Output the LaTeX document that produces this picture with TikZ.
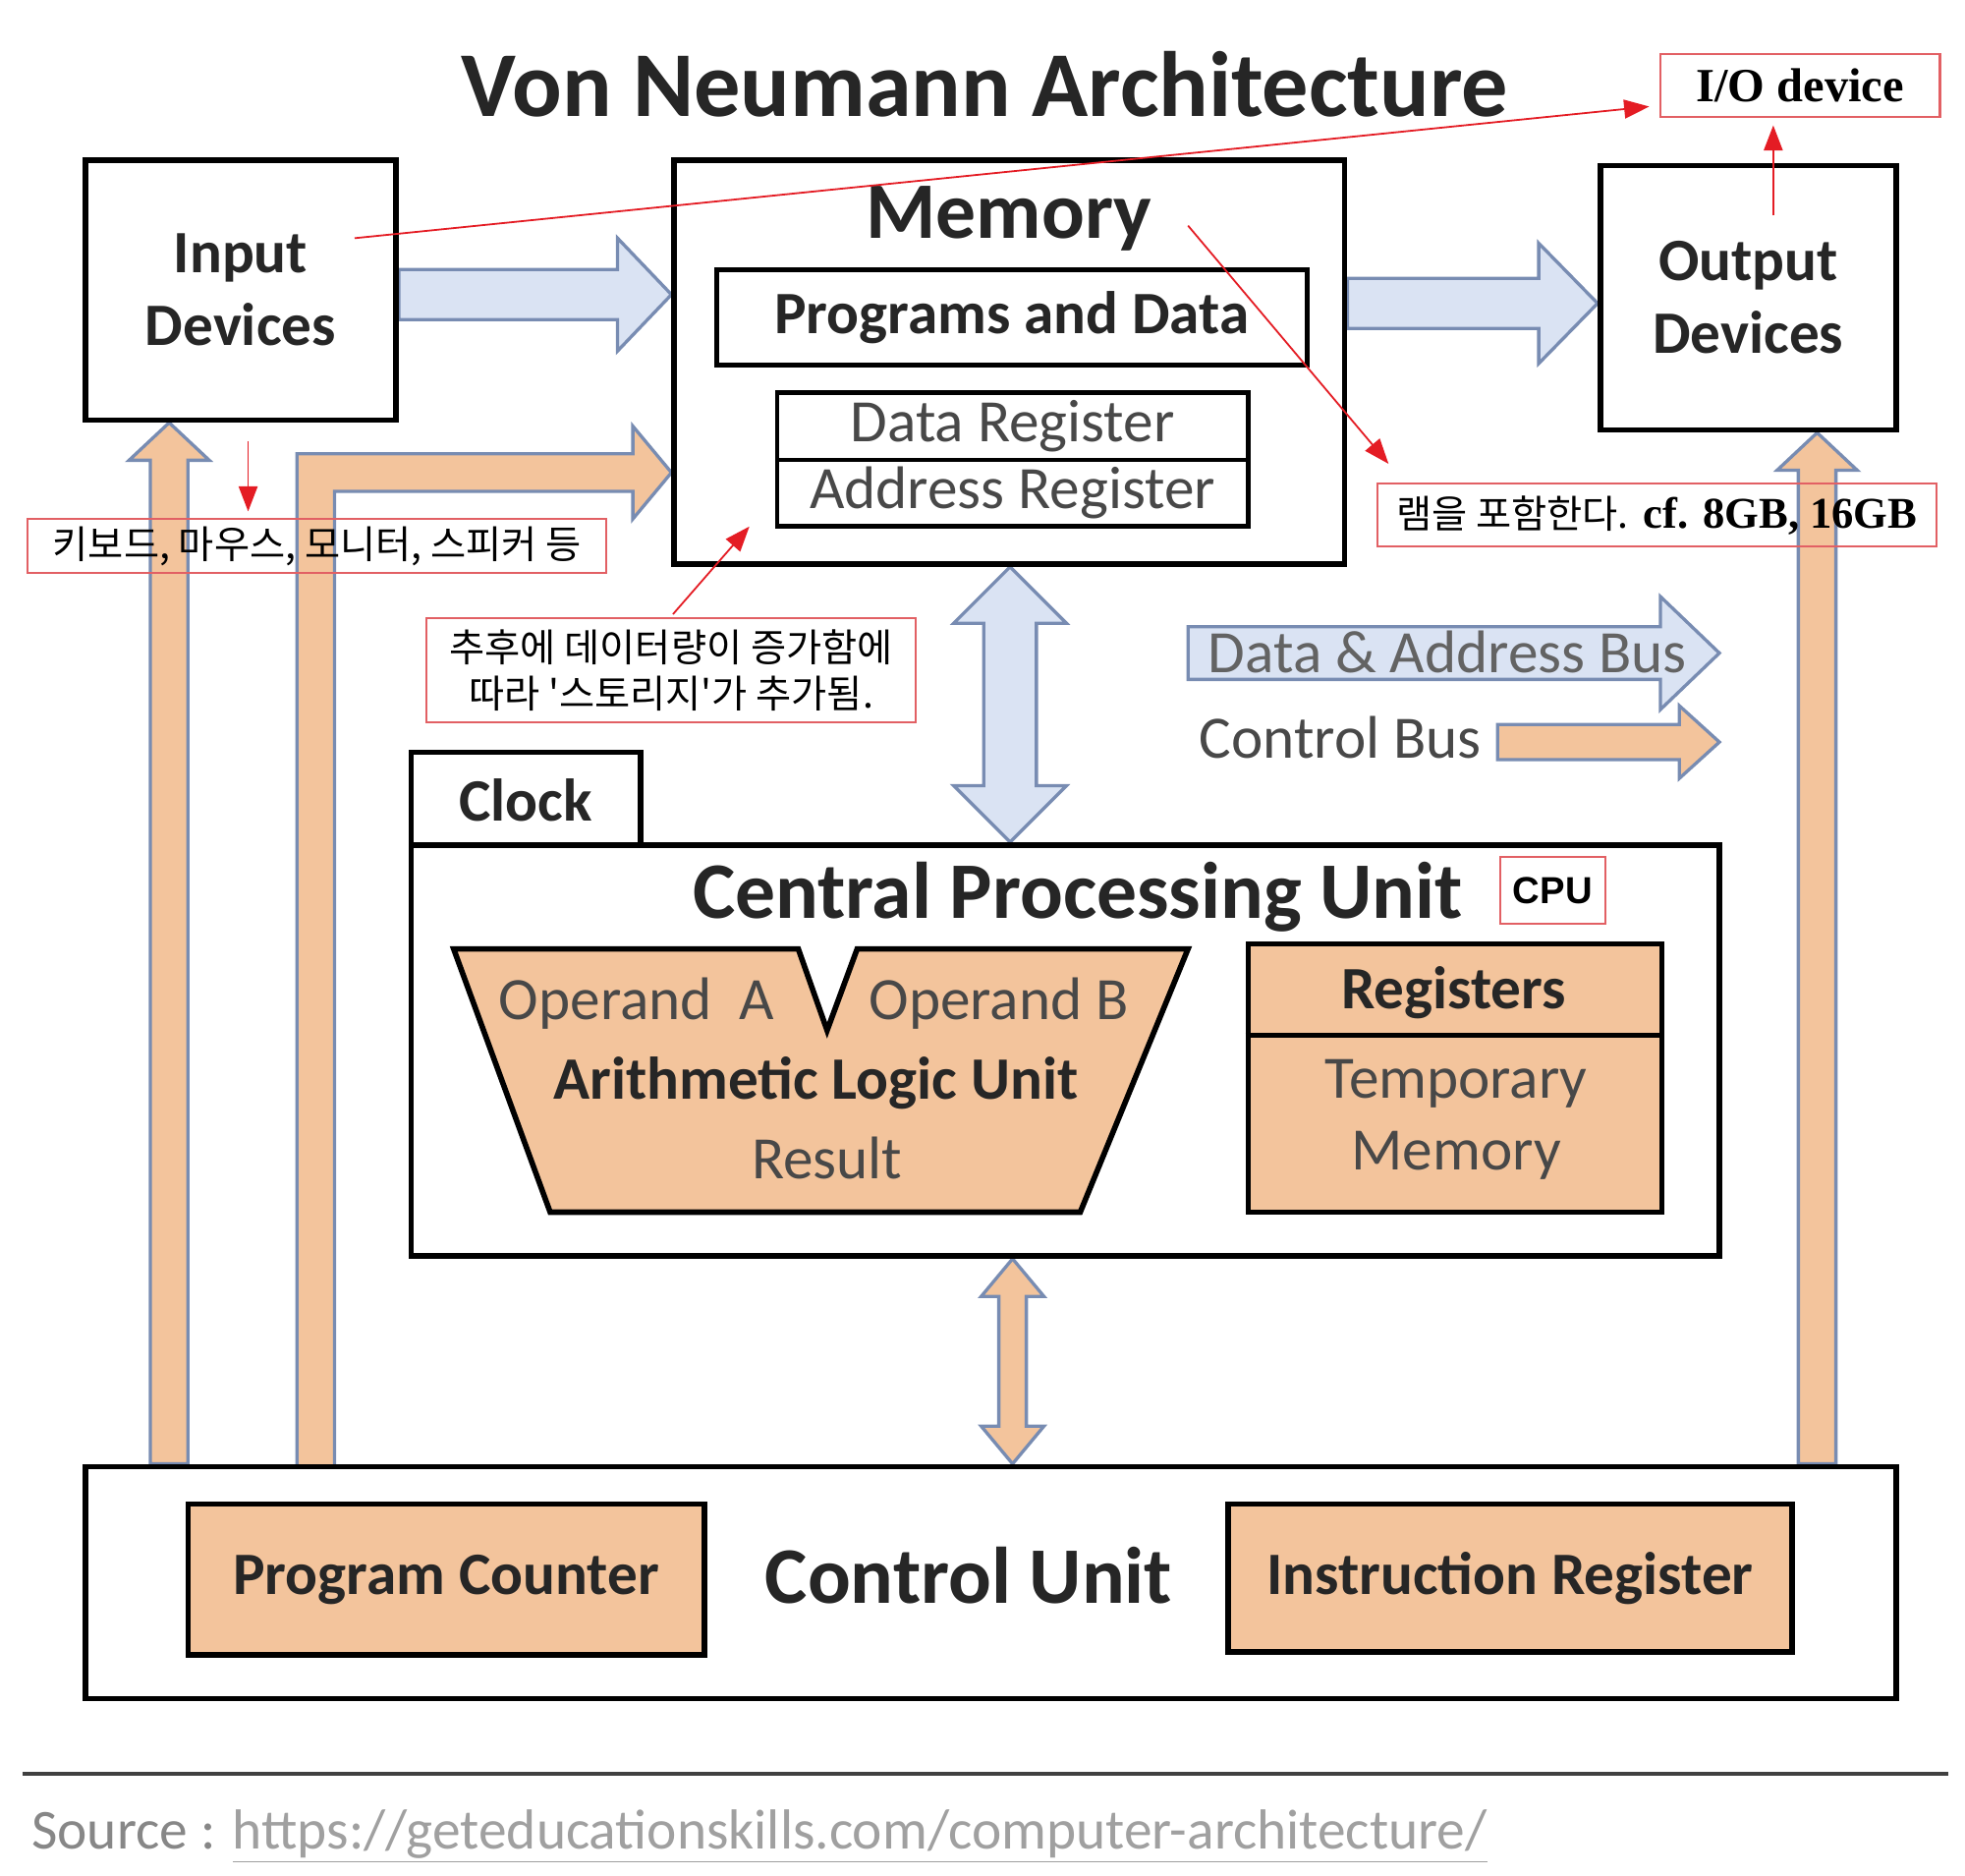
\documentclass[tikz,border=0pt]{standalone}
\usepackage{fontspec}
\setmainfont{Carlito}
\newfontfamily\krfont[Ligatures=TeXOff]{Noto Sans CJK KR}
\newfontfamily\serfont{Liberation Serif}
\newfontfamily\lsfont{Liberation Sans}
\usetikzlibrary{calc,arrows.meta}
\definecolor{orF}{RGB}{243,196,156}
\definecolor{blueF}{RGB}{218,227,243}
\definecolor{blueD}{RGB}{120,140,178}
\definecolor{redA}{RGB}{228,28,36}
\definecolor{redB}{RGB}{226,96,100}
\definecolor{txtD}{RGB}{38,38,38}
\definecolor{txtG}{RGB}{72,72,72}
\definecolor{srcG}{RGB}{135,135,135}
\definecolor{urlG}{RGB}{160,160,160}
\pgfdeclarelayer{bgzero}
\pgfdeclarelayer{bgarr}
\pgfsetlayers{bgzero,bgarr,main}
\tikzset{
  box/.style={draw=black, line width=2.2pt, fill=white, inner sep=0pt},
  obox/.style={box, fill=orF},
  rbox/.style={draw=redB, line width=0.8pt, inner sep=0pt},
  barr/.style={fill=blueF, draw=blueD, line width=1.3pt, line join=miter},
  oarr/.style={fill=orF, draw=blueD, line width=1.3pt, line join=miter},
  redarr/.style={draw=redA, line width=0.7pt, -{Triangle[length=10pt,width=7.5pt]}},
  lblB/.style={font=\bfseries\fontsize{24}{29}\selectfont, text=txtD, align=center},
  lblR/.style={font=\fontsize{24}{29}\selectfont, text=txtG, align=center},
  big/.style={font=\bfseries\fontsize{32}{38}\selectfont, text=txtD},
  krtxt/.style={font=\krfont\fontsize{15.4}{18.5}\selectfont, text=black, align=center},
}
% block arrow: style, from, to, body half width, head half width, head length
\newcommand\blockarrow[6]{%
  \path ($#3!#6!#2$) coordinate (bah);
  \draw[#1] ($#2!#4!90:#3$) -- ($(bah)!#4!90:#3$) -- ($(bah)!#5!90:#3$) -- #3
    -- ($(bah)!#5!-90:#3$) -- ($(bah)!#4!-90:#3$) -- ($#2!#4!-90:#3$) -- cycle;}
% double block arrow
\newcommand\dblarrow[6]{%
  \path ($#3!#6!#2$) coordinate (dahb) ($#2!#6!#3$) coordinate (daha);
  \draw[#1] #2 -- ($(daha)!#5!90:#3$) -- ($(daha)!#4!90:#3$) -- ($(dahb)!#4!90:#3$)
    -- ($(dahb)!#5!90:#3$) -- #3 -- ($(dahb)!#5!-90:#3$) -- ($(dahb)!#4!-90:#3$)
    -- ($(daha)!#4!-90:#3$) -- ($(daha)!#5!-90:#3$) -- cycle;}
\begin{document}
\begin{tikzpicture}[x=0.5pt,y=-0.5pt]
\begin{pgfonlayer}{bgzero}
  \fill[white] (0,0) rectangle (1568,1496);
\end{pgfonlayer}
\useasboundingbox (0,0) rectangle (1568,1496);

% title
\node[font=\bfseries\fontsize{37}{43}\selectfont, text=txtD, anchor=base] (title) at (786,93) {Von Neumann Architecture};

% main boxes
\node[box, lblB, minimum width=124pt, minimum height=103.5pt] (inp) at (192,231.5) {Input\\Devices};
\node[box, minimum width=267.5pt, minimum height=161pt] (mem) at (805.5,289) {};
\node[big, anchor=base] (memt) at (805,190) {Memory};
\node[box, lblB, line width=2pt, minimum width=235.5pt, minimum height=38pt] (pad) at (807.5,253) {Programs and Data};
\node[box, lblR, line width=1.8pt, minimum width=188pt, minimum height=27pt] (dreg) at (808,340) {Data Register};
\node[box, lblR, line width=1.8pt, minimum width=188pt, minimum height=26.5pt] (areg) at (808,393.5) {Address Register};
\node[box, lblB, minimum width=118pt, minimum height=105.5pt] (out) at (1395,237.5) {Output\\Devices};

% CPU
\node[box, lblB, minimum width=91.5pt, minimum height=38pt] (clk) at (419.5,638) {Clock};
\node[box, minimum width=522pt, minimum height=164pt] (cpu) at (850,838) {};
\node[big, anchor=base] (cput) at (860,733) {Central Processing Unit};
\draw[line width=2.2pt, fill=orF, line join=miter] (362,757) -- (637,757) -- (660,822) -- (684,757) -- (948,757) -- (862,967) -- (439,967) -- cycle;
\node[lblR, anchor=base] (opa) at (508,813) {Operand\ \ A};
\node[lblR, anchor=base] (opb) at (797,813) {Operand B};
\node[lblB, anchor=base] (alut) at (651,877) {Arithmetic Logic Unit};
\node[lblR, anchor=base] (res) at (660,940) {Result};
\node[obox, minimum width=165pt, minimum height=107pt] (regs) at (1161,860) {};
\coordinate (regdiv) at (0,826);
\draw[line width=2.2pt] (regs.west |- regdiv) -- (regs.east |- regdiv);
\node[lblB, anchor=base] (regt) at (1160,805) {Registers};
\node[lblR, anchor=base] (tmpm) at (1162,876) {Temporary};
\node[lblR, anchor=base] (tmpm2) at (1162,933) {Memory};

% control unit
\node[box, minimum width=722.5pt, minimum height=92.5pt] (cu) at (790.5,1262.5) {};
\node[obox, lblB, minimum width=206pt, minimum height=60pt] (pc) at (356,1260) {Program Counter};
\node[big, anchor=center] (cut) at (773,1257) {Control Unit};
\node[obox, lblB, minimum width=225pt, minimum height=59pt] (ir) at (1205,1259) {Instruction Register};

% legend
\coordinate (lg1s) at (948,521);
\coordinate (lg1e) at (1372,521);
\coordinate (lg2s) at (1195,592);
\coordinate (lg2e) at (1372,592);
\node[lblR, anchor=base, text=txtG!85!white] (dab) at (1155,537) {Data \& Address Bus};
\node[lblR, anchor=base west] (cb) at (950,605) {Control Bus};

% block arrows (behind boxes)
\coordinate (ya) at (0,235);
\coordinate (yb) at (0,242);
\coordinate (a1s) at (inp.east |- ya);
\coordinate (a1e) at (mem.west |- ya);
\coordinate (a2s) at (mem.east |- yb);
\coordinate (a2e) at (out.west |- yb);
\coordinate (xc) at (806,0);
\coordinate (a3s) at (mem.south -| xc);
\coordinate (a3e) at (cpu.north -| xc);
\coordinate (xd) at (808,0);
\coordinate (a4s) at (cpu.south -| xd);
\coordinate (a4e) at (cu.north -| xd);
\coordinate (xl) at (135,0);
\coordinate (a5s) at (cu.north -| xl);
\coordinate (a5e) at (inp.south -| xl);
\coordinate (xr) at (1450,0);
\coordinate (a6s) at (cu.north -| xr);
\coordinate (a6e) at (out.south -| xr);
\coordinate (yt) at (0,377);
\coordinate (a7e) at (mem.west |- yt);
\begin{pgfonlayer}{bgarr}
  \blockarrow{barr}{(a1s)}{(a1e)}{10pt}{22.5pt}{21.5pt}
  \blockarrow{barr}{(a2s)}{(a2e)}{10pt}{24pt}{23.5pt}
  \dblarrow{barr}{(a3s)}{(a3e)}{10.5pt}{22.5pt}{22.5pt}
  \dblarrow{oarr}{(a4s)}{(a4e)}{5.5pt}{12.5pt}{15pt}
  \blockarrow{oarr}{(a5s)}{(a5e)}{7.5pt}{16pt}{15pt}
  \blockarrow{oarr}{(a6s)}{(a6e)}{7.5pt}{16pt}{15pt}
  \draw[oarr] (237,1172) -- (237,362) -- (505,362) -- (505,340) -- (a7e)
     -- (505,414) -- (505,392) -- (267,392) -- (267,1172) -- cycle;
  \blockarrow{barr}{(lg1s)}{(lg1e)}{10.5pt}{22.5pt}{23.5pt}
  \blockarrow{oarr}{(lg2s)}{(lg2e)}{7pt}{14.5pt}{16pt}
\end{pgfonlayer}

% source
\draw[line width=1.6pt, draw=black!75] (18,1415) -- (1555,1415);
\node[anchor=base west, font=\fontsize{22.5}{26}\selectfont, text=srcG, inner sep=0pt] (src) at (25,1475)
  {Source : {\color{urlG}\underline{https://geteducationskills.com/computer-architecture/}}};

% red annotations
\node[rbox, minimum width=111.5pt, minimum height=25pt, font=\serfont\bfseries\fontsize{19}{22}\selectfont] (io) at (1436.5,68) {I/O device};
\node[rbox, krtxt, minimum width=231pt, minimum height=21.5pt] (kbd) at (253,435.5) {키보드, 마우스, 모니터, 스피커 등};
\node[rbox, krtxt, minimum width=223pt, minimum height=25pt] (ram) at (1322,411) {램을 포함한다.{\serfont\bfseries\fontsize{17.5}{20}\selectfont{} cf. 8GB, 16GB}};
\node[rbox, krtxt, minimum width=195.5pt, minimum height=41.5pt] (stor) at (535.5,534.5) {추후에 데이터량이 증가함에\\따라 '스토리지'가 추가됨.};
\node[rbox, minimum width=42pt, minimum height=26.5pt, font=\lsfont\bfseries\fontsize{15}{18}\selectfont] (cpul) at (1239,710.5) {CPU};

\coordinate (r1s) at (283,190);
\coordinate (r1e) at (1316,85);
\coordinate (r2s) at (198,352);
\coordinate (r2e) at (198,408);
\coordinate (r3s) at (1415,172);
\coordinate (r3e) at (1415,100);
\coordinate (r4s) at (948,180);
\coordinate (r4e) at (1108,370);
\coordinate (r5s) at (537,490);
\coordinate (r5e) at (598,420);
\draw[redarr] (r1s) -- (r1e);
\draw[redarr] (r2s) -- (r2e);
\draw[redarr] (r3s) -- (r3e);
\draw[redarr] (r4s) -- (r4e);
\draw[redarr] (r5s) -- (r5e);
\end{tikzpicture}
\end{document}
